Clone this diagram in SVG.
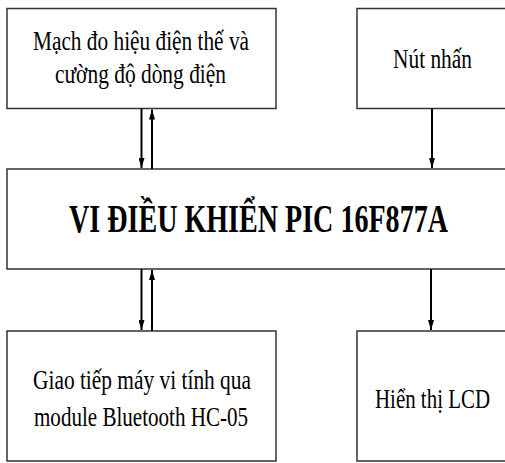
<svg xmlns="http://www.w3.org/2000/svg" width="505" height="463" viewBox="0 0 505 463">
<style>
.box{fill:#fff;stroke:#333;stroke-width:1.5}
.t{font-family:"Liberation Serif","Times New Roman",serif;font-size:28px;fill:#000}
.b{font-family:"Liberation Serif","Times New Roman",serif;font-size:39px;font-weight:bold;fill:#000}
.c{stroke:#000;stroke-width:2;fill:none}
</style>
<defs>
<marker id="ah2" viewBox="0 0 10 6" refX="10" refY="3" markerWidth="10" markerHeight="6" markerUnits="userSpaceOnUse" orient="auto">
<path d="M0,0 L10,3 L0,6 Z" fill="#000"/>
</marker>
</defs>
<rect width="505" height="463" fill="#fff"/>
<g id="n-mach">
<rect class="box" x="7" y="8.5" width="269" height="100"/>
<text class="t" x="33" y="49.5" textLength="216" lengthAdjust="spacingAndGlyphs">Mạch đo hiệu điện thế và</text>
<text class="t" x="55" y="83" textLength="171" lengthAdjust="spacingAndGlyphs">cường độ dòng điện</text>
</g>
<g id="n-nut">
<rect class="box" x="357" y="8.5" width="160" height="100"/>
<text class="t" x="393" y="67.5" textLength="79" lengthAdjust="spacingAndGlyphs">Nút nhấn</text>
</g>
<g id="n-pic">
<rect class="box" x="7" y="169" width="510" height="100"/>
<text class="b" x="69" y="232" textLength="379" lengthAdjust="spacingAndGlyphs">VI ĐIỀU KHIỂN PIC 16F877A</text>
</g>
<g id="n-bt">
<rect class="box" x="7" y="331" width="269" height="130"/>
<text class="t" x="33" y="389" textLength="218" lengthAdjust="spacingAndGlyphs">Giao tiếp máy vi tính qua</text>
<text class="t" x="34" y="425.5" textLength="214" lengthAdjust="spacingAndGlyphs">module Bluetooth HC-05</text>
</g>
<g id="n-lcd">
<rect class="box" x="357" y="331" width="160" height="130"/>
<text class="t" x="375" y="407.5" textLength="115" lengthAdjust="spacingAndGlyphs">Hiển thị LCD</text>
</g>
<g id="connectors">
<line class="c" x1="141.5" y1="108.5" x2="141.5" y2="168" marker-end="url(#ah2)"/>
<line class="c" x1="152" y1="169" x2="152" y2="109.5" marker-end="url(#ah2)"/>
<line class="c" x1="432" y1="108.5" x2="432" y2="168" marker-end="url(#ah2)"/>
<line class="c" x1="141.5" y1="269" x2="141.5" y2="330" marker-end="url(#ah2)"/>
<line class="c" x1="152" y1="331" x2="152" y2="270" marker-end="url(#ah2)"/>
<line class="c" x1="431" y1="269" x2="431" y2="330" marker-end="url(#ah2)"/>
</g>
</svg>
